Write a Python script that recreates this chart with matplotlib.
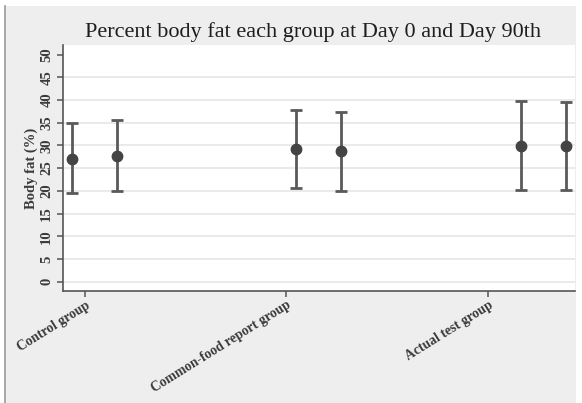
import matplotlib
matplotlib.use("Agg")
import matplotlib.pyplot as plt
from matplotlib.patches import Rectangle
from matplotlib.lines import Line2D

# Data: mean body fat (%) with lower/upper bounds, Day 0 and Day 90 per group
groups = ["Control group", "Common-food report group", "Actual test group"]
day0_mean = [27.1, 29.2, 29.9]
day0_low = [19.5, 20.6, 20.2]
day0_high = [34.9, 37.8, 39.8]
day90_mean = [27.7, 28.8, 29.9]
day90_low = [19.9, 20.0, 20.2]
day90_high = [35.6, 37.4, 39.5]
yticks = [0, 5, 10, 15, 20, 25, 30, 35, 40, 45, 50]

# x positions of the markers and of the category ticks
day0_x = [1.0, 2.0, 3.0]
day90_x = [1.2, 2.2, 3.2]
group_tick_x = [1.06, 1.955, 2.855]

W, H = 582, 403
fig = plt.figure(figsize=(W / 100, H / 100), dpi=100)
fig.patch.set_facecolor("white")

# gray graph region with a left border line
panel = Rectangle((5 / W, 0), (576 - 5) / W, (H - 6) / H, transform=fig.transFigure,
                  facecolor="#eeeeee", edgecolor="none", zorder=-10)
fig.patches.append(panel)
fig.lines.append(Line2D([4.5 / W, 4.5 / W], [0, (H - 6) / H], transform=fig.transFigure,
                        color="#9a9a9a", linewidth=1.2, zorder=-5))

ax = fig.add_axes([63 / W, (H - 291) / H, (575 - 63) / W, (291 - 45) / H])
ax.set_zorder(1)
ax.set_facecolor("white")

serif = ["Liberation Serif", "DejaVu Serif"]
dark = "#3a3a3a"

for xs, m, lo, hi in [(day0_x, day0_mean, day0_low, day0_high),
                      (day90_x, day90_mean, day90_low, day90_high)]:
    yerr = [[mi - l for mi, l in zip(m, lo)], [h - mi for mi, h in zip(m, hi)]]
    ax.errorbar(xs, m, yerr=yerr, fmt="o", color="#444444", ecolor="#5a5a5a",
                elinewidth=2.0, capsize=4, capthick=2.0, markersize=7.5, zorder=3)

ax.set_xlim(0.96, 3.2405)
ax.set_ylim(-2.05, 52.1)

ax.set_yticks(yticks)
ax.set_yticklabels([str(v) for v in yticks], rotation=90, va="center",
                   family=serif, fontsize=10.5, color=dark, fontweight="bold")
ax.set_xticks(group_tick_x)
ax.set_xticklabels(groups, rotation=32, ha="right", va="top", rotation_mode="anchor",
                   family=serif, fontsize=9.8, color=dark, fontweight="bold")

for v in yticks[:-1]:
    ax.axhline(v, color="#e8e8e8", linewidth=1.3, zorder=1)

for s in ["top", "right"]:
    ax.spines[s].set_visible(False)
for s in ["left", "bottom"]:
    ax.spines[s].set_color("#555555")
    ax.spines[s].set_linewidth(1.2)
ax.tick_params(axis="both", direction="out", length=4, width=1.1, color="#555555", pad=3)
ax.tick_params(axis="x", pad=1.5)

ax.set_ylabel("Body fat (%)", family=serif, fontsize=10.5, color=dark, labelpad=2,
              fontweight="bold")
fig.text(313 / W, 1 - 32 / H, "Percent body fat each group at Day 0 and Day 90th",
         ha="center", va="center", family=serif, fontsize=16, color="#1e1e1e")

fig.savefig("out.png", dpi=100, facecolor=fig.get_facecolor())
